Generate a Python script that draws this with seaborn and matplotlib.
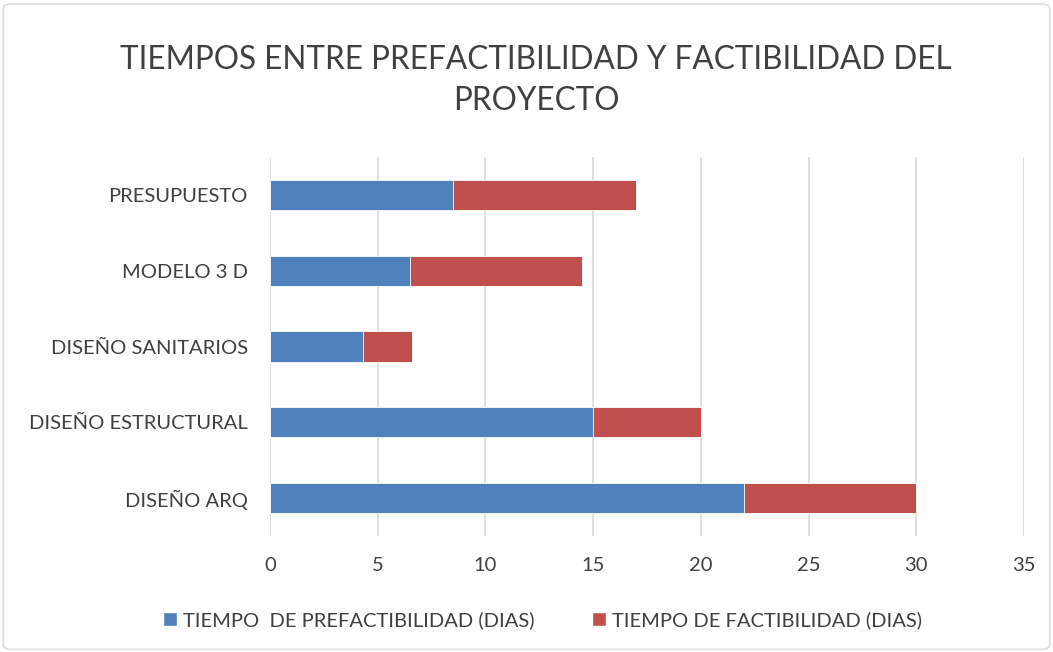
import matplotlib
matplotlib.use("Agg")
import matplotlib.pyplot as plt
from matplotlib.patches import Patch, FancyBboxPatch
import pandas as pd
import seaborn as sns

categorias = ["PRESUPUESTO", "MODELO 3 D", "DISEÑO SANITARIOS", "DISEÑO ESTRUCTURAL", "DISEÑO ARQ"]
prefactibilidad = [8.5, 6.5, 4.3, 15, 22]
factibilidad = [8.5, 8, 2.3, 5, 8]
x_ticks = [0, 5, 10, 15, 20, 25, 30, 35]

nombre_pre = "TIEMPO  DE PREFACTIBILIDAD (DIAS)"
nombre_fac = "TIEMPO DE FACTIBILIDAD (DIAS)"
azul = "#4F81BD"
rojo = "#C0504D"

df = pd.DataFrame({"cat": categorias, "pre": prefactibilidad, "fac": factibilidad})
df["total"] = df["pre"] + df["fac"]

sns.set_theme(style="white")
plt.rcParams["font.family"] = ["Lato", "DejaVu Sans"]

fig = plt.figure(figsize=(10.53, 6.52), dpi=100)
ax = fig.add_axes([270 / 1053, 1 - 536 / 652, (1024 - 270) / 1053, (536 - 157) / 652])

# stacked: total in red, prefeasibility in blue on top
sns.barplot(data=df, y="cat", x="total", order=categorias, color=rojo, width=0.4,
            saturation=1, edgecolor="white", linewidth=0.6, ax=ax)
sns.barplot(data=df, y="cat", x="pre", order=categorias, color=azul, width=0.4,
            saturation=1, edgecolor="white", linewidth=0.6, ax=ax)

ax.set_xlim(0, 35)
ax.set_xticks(x_ticks)
ax.set_xlabel("")
ax.set_ylabel("")
ax.grid(axis="x", color="#D9D9D9", linewidth=1.2)
ax.set_axisbelow(True)
for s in ax.spines.values():
    s.set_visible(False)
ax.tick_params(axis="both", length=0, labelsize=14.5, colors="#404040", pad=16)
ax.tick_params(axis="x", pad=15)

fig.text(0.509, 1 - 60 / 652, "TIEMPOS ENTRE PREFACTIBILIDAD Y FACTIBILIDAD DEL", ha="center", va="center",
         fontsize=22.7, color="#404040")
fig.text(0.509, 1 - 101 / 652, "PROYECTO", ha="center", va="center", fontsize=22.7, color="#404040")

handles = [Patch(facecolor=azul, label=nombre_pre), Patch(facecolor=rojo, label=nombre_fac)]
fig.legend(handles=handles, loc="center", bbox_to_anchor=(0.515, 1 - 620 / 652), ncol=2, frameon=False,
           fontsize=14.5, handlelength=0.7, handleheight=0.7, handletextpad=0.3, columnspacing=2.85,
           labelcolor="#404040")

border = FancyBboxPatch((0.003, 0.004), 0.994, 0.99, boxstyle="round,pad=0,rounding_size=0.008",
                        transform=fig.transFigure, facecolor="none", edgecolor="#D9D9D9", linewidth=1)
fig.patches.append(border)

fig.savefig("out.png", dpi=100)
